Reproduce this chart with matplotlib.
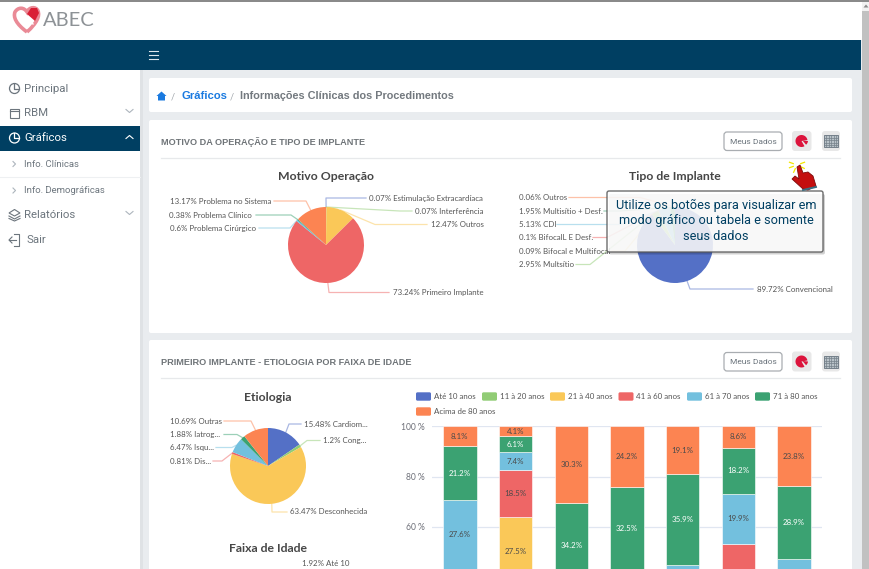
import matplotlib
matplotlib.use("Agg")
import numpy as np
import matplotlib.pyplot as plt
from matplotlib.patches import FancyBboxPatch, Rectangle, Circle, Polygon, PathPatch, Wedge
from matplotlib.path import Path

W, H = 870, 569
plt.rcParams["font.family"] = ["Lato", "DejaVu Sans"]

# ── DATA ──────────────────────────────────────────────────────────────────────
C_BLUE, C_GREEN, C_YELLOW, C_RED = "#5470c6", "#91cc75", "#fac858", "#ee6666"
C_LBLUE, C_DGREEN, C_ORANGE = "#73c0de", "#3ba272", "#fc8452"
PIE_COLORS = [C_BLUE, C_GREEN, C_YELLOW, C_RED, C_LBLUE, C_DGREEN, C_ORANGE]

motivo_values = [0.07, 0.07, 12.47, 73.24, 0.6, 0.38, 13.17]
motivo_names = ["Estimulação Extracardíaca", "Interferência", "Outros", "Primeiro Implante",
                "Problema Cirúrgico", "Problema Clínico", "Problema no Sistema"]

tipo_values = [89.72, 2.95, 0.09, 0.1, 5.13, 1.95, 0.06]
tipo_names = ["Convencional", "Multsítio", "Bifocal e Multifocal", "BifocalL E Desf.",
              "CDI", "Multisítio + Desf.", "Outros"]

etio_values = [15.48, 1.2, 63.47, 0.81, 6.47, 1.88, 10.69]
etio_names = ["Cardiom...", "Cong...", "Desconhecida", "Dis...", "Isqu...", "Iatrog...", "Outras"]

age_groups = ["Até 10 anos", "11 à 20 anos", "21 à 40 anos", "41 à 60 anos",
              "61 à 70 anos", "71 à 80 anos", "Acima de 80 anos"]
# one list per age group, seven bars; the part below the crop is estimated
age_00_10 = [0, 18.9, 0, 0, 0, 0, 0]
age_11_20 = [0, 17.5, 0, 0, 0, 0, 0]
age_21_40 = [15.1, 27.5, 0, 4.8, 3.1, 19.4, 5.2]
age_41_60 = [28.0, 18.5, 12.9, 21.1, 16.8, 33.9, 20.1]
age_61_70 = [27.6, 7.4, 22.6, 17.4, 25.1, 19.9, 22.0]
age_71_80 = [21.2, 6.1, 34.2, 32.5, 35.9, 18.2, 28.9]
age_80_up = [8.1, 4.1, 30.3, 24.2, 19.1, 8.6, 23.8]
age_series = [age_00_10, age_11_20, age_21_40, age_41_60, age_61_70, age_71_80, age_80_up]
y_ticks = [60, 80, 100]

NAVY = "#003f62"
GRAY_TXT = "#6c757d"
PAGE_BG = "#e9ecef"
LABEL_C = "#555555"
LABEL_FS = 5.65
TITLE_FS = 8.8

# ── BASE LAYER (pixel coordinates) ────────────────────────────────────────────
fig = plt.figure(figsize=(W / 100, H / 100), dpi=100, facecolor=PAGE_BG)


def pixel_axes(z):
    a = fig.add_axes([0, 0, 1, 1], zorder=z)
    a.set_xlim(0, W)
    a.set_ylim(H, 0)
    a.axis("off")
    a.patch.set_alpha(0)
    return a


base = pixel_axes(0)
top = pixel_axes(10)


def rect(ax, x0, y0, x1, y1, fc, ec="none", lw=0, z=1):
    ax.add_patch(Rectangle((x0, y0), x1 - x0, y1 - y0, fc=fc, ec=ec, lw=lw, zorder=z))


def rrect(ax, x0, y0, x1, y1, fc, ec="none", lw=0, pad=2, z=1, alpha=None):
    ax.add_patch(FancyBboxPatch((x0 + pad, y0 + pad), x1 - x0 - 2 * pad, y1 - y0 - 2 * pad,
                                boxstyle=f"round,pad={pad}", fc=fc, ec=ec, lw=lw, zorder=z, alpha=alpha))


# chrome
rect(base, 0, 0, W, 1.5, "#8a8a8a")
rect(base, 0, 1.5, 862, 40, "white")
rect(base, 0, 40, 861, 70, NAVY)
rect(base, 0, 70, 140, H, "white")
rect(base, 140, 70, 143, H, "#dfe2e5")
rect(base, 862, 1.5, W, H, "#c1c1c1")
rect(base, 862, 1.5, W, 11, "#f1f1f1")
base.add_patch(Polygon([[863.5, 7.5], [866, 4.5], [868.5, 7.5]], fc="#8a8a8a", zorder=2))
for y in [51, 55, 59]:
    base.plot([149, 158], [y, y], color="#dfe8ee", lw=0.8, zorder=2)

# logo
heart = Path([(27, 32), (16, 24), (13, 17), (15, 12), (18, 7), (24, 7), (27, 12),
              (29, 7), (36, 6), (38, 11), (40, 16), (37, 23), (27, 32)],
             [Path.MOVETO] + [Path.CURVE4] * 12)
base.add_patch(PathPatch(heart, fc="none", ec="#ea8a96", lw=2.6, zorder=2))
base.add_patch(Polygon([[27, 14], [31, 8], [37, 8], [39, 13], [35, 21]], fc="#d91f35", zorder=3))
base.plot([24, 33], [13, 24], color="white", lw=1.0, zorder=4)
base.text(43, 20.5, "ABEC", fontsize=14.5, color="#8d9296", va="center", family="Lato", zorder=3)

# sidebar
rect(base, 0, 126, 140, 151, NAVY, z=2)
base.plot([0, 140], [177, 177], color="#eef0f2", lw=0.8, zorder=2)
side_items = [("Principal", 88.5), ("RBM", 113), ("Gráficos", 138), ("Relatórios", 215), ("Sair", 240)]
for name, y in side_items:
    c = "white" if name == "Gráficos" else GRAY_TXT
    x = 27 if name == "Sair" else 24
    base.text(x, y, name, fontsize=8.2, color=c, va="center", family="Roboto", zorder=3)
    if name == "RBM":
        rect(base, 10, y - 4.5, 19, y + 4.5, "none", ec=c, lw=0.8, z=3)
        base.plot([10, 19], [y - 2, y - 2], color=c, lw=0.8, zorder=3)
    elif name == "Relatórios":
        base.add_patch(Polygon([[9, y - 2], [14.5, y - 5.5], [20, y - 2], [14.5, y + 1]], fc="none", ec=c, lw=0.8, zorder=3))
        base.plot([9, 14.5, 20], [y + 1, y + 4, y + 1], color=c, lw=0.8, zorder=3)
        base.plot([9, 14.5, 20], [y + 3.5, y + 6, y + 3.5], color=c, lw=0.8, zorder=3)
    elif name == "Sair":
        base.plot([14, 19, 19, 14], [y - 6, y - 6, y + 6, y + 6], color=c, lw=0.8, zorder=3)
        base.plot([9, 16], [y, y], color=c, lw=0.8, zorder=3)
        base.plot([12, 9, 12], [y - 3, y, y + 3], color=c, lw=0.8, zorder=3)
    else:
        base.add_patch(Circle((14.5, y), 5, fc="none", ec=c, lw=0.9, zorder=3))
        base.plot([14.5, 14.5, 19.5], [y - 5, y, y], color=c, lw=0.9, zorder=3)
for y, up, c in [(111, False, "#adb5bd"), (137, True, "white"), (213, False, "#adb5bd")]:
    d = -1.5 if up else 1.5
    base.plot([126, 129.5, 133], [y - d, y + d, y - d], color=c, lw=0.8, zorder=3)
for name, y in [("Info. Clínicas", 164), ("Info. Demográficas", 190.5)]:
    base.plot([13, 15.5, 13], [y - 2.5, y, y + 2.5], color="#adb5bd", lw=0.8, zorder=3)
    base.text(24, y, name, fontsize=6.8, color=GRAY_TXT, va="center", family="Roboto", zorder=3)

# cards
rrect(base, 149, 78, 852, 112, "white")
rrect(base, 149, 120, 852, 333, "white")
rrect(base, 149, 340, 852, H + 10, "white")

# breadcrumb
base.add_patch(Polygon([[156.5, 96], [161.5, 91.5], [166.5, 96], [165, 96], [165, 100.5], [158, 100.5], [158, 96]],
                       fc="#1a7ae0", zorder=3))
base.text(171, 96.5, "/", fontsize=6.5, color="#9aa0a6", va="center", zorder=3)
base.text(181.5, 96, "Gráficos", fontsize=8.1, color="#1a7ae0", weight="bold", va="center", family="Liberation Sans", zorder=3)
base.text(230, 96.5, "/", fontsize=6.5, color="#9aa0a6", va="center", zorder=3)
base.text(240, 96, "Informações Clínicas dos Procedimentos", fontsize=7.85, color="#73797f", weight="bold",
          va="center", family="Liberation Sans", zorder=3)


def card_header(title, y):
    base.text(161, y, title, fontsize=6.6, color="#6f7478", weight="bold", va="center",
              family="Liberation Sans", zorder=3)
    base.plot([161, 840], [y + 15.5, y + 15.5], color="#e7e9eb", lw=0.9, zorder=3)
    rrect(base, 724, y - 10, 782, y + 8.5, "white", ec="#a9adb1", lw=0.9, pad=3, z=3)
    base.text(753, y - 0.5, "Meus Dados", fontsize=6.0, color=GRAY_TXT, ha="center", va="center", family="Roboto", zorder=4)
    # pie button
    rrect(base, 792, y - 11, 811.5, y + 9, "#e8e8e8", pad=3, z=3)
    cy = y - 1
    base.add_patch(Wedge((801.5, cy), 6, 60, 350, fc="#dc143c", zorder=4))
    base.add_patch(Wedge((802.5, cy - 0.5), 5.5, 5, 50, fc="#dc143c", zorder=4))
    # table button
    rrect(base, 822, y - 11, 840, y + 9, "#e8e8e8", pad=3, z=3)
    rect(base, 824, y - 7, 838, y + 5, "#b9c2c8", ec="#75808a", lw=0.7, z=4)
    for gx in np.arange(826.5, 838, 2.5):
        base.plot([gx, gx], [y - 7, y + 5], color="#75808a", lw=0.5, zorder=5)
    for gy in np.arange(y - 4.5, y + 5, 2.5):
        base.plot([824, 838], [gy, gy], color="#75808a", lw=0.5, zorder=5)


card_header("MOTIVO DA OPERAÇÃO E TIPO DE IMPLANTE", 142)
card_header("PRIMEIRO IMPLANTE - ETIOLOGIA POR FAIXA DE IDADE", 362.5)


# ── PIES ──────────────────────────────────────────────────────────────────────
def draw_pie(cx, cy, r, values, title, title_y):
    ax = fig.add_axes([(cx - r) / W, 1 - (cy + r) / H, 2 * r / W, 2 * r / H], zorder=2)
    ax.pie(values, colors=PIE_COLORS, startangle=90, counterclock=False, radius=1,
           wedgeprops={"linewidth": 0})
    ax.set_xlim(-1, 1)
    ax.set_ylim(-1, 1)
    base.text(cx, title_y, title, fontsize=TITLE_FS, color="#464646", weight="bold", ha="center", va="center", zorder=3)


def edge_point(values, i, cx, cy, r):
    a = 2 * np.pi * (sum(values[:i]) + values[i] / 2) / sum(values)
    return cx + r * np.sin(a), cy - r * np.cos(a)


def pie_label(values, names, i, cx, cy, r, elbow_x, line_end_x, y, text_x, ha):
    sx, sy = edge_point(values, i, cx, cy, r)
    base.plot([sx, elbow_x, line_end_x], [sy, y, y], color=PIE_COLORS[i], alpha=0.5, lw=0.9, zorder=3)
    base.text(text_x, y, f"{values[i]}% {names[i]}", fontsize=LABEL_FS, color=LABEL_C, ha=ha, va="center", zorder=3)


draw_pie(326, 245, 38, motivo_values, "Motivo Operação", 176.5)
draw_pie(675, 245, 38, tipo_values, "Tipo de Implante", 176.5)
draw_pie(268, 466, 38, etio_values, "Etiologia", 397.5)
base.text(268, 549, "Faixa de Idade", fontsize=TITLE_FS, color="#464646", weight="bold", ha="center", va="center", zorder=3)

motivo_layout = [(0, 326, 366, 198, 369.5, "left"), (1, 400, 412, 211, 415, "left"),
                 (2, 375, 427, 224.5, 431, "left"), (3, 329, 389, 292.5, 393, "left"),
                 (4, 290, 259, 228, 256, "right"), (5, 291, 256, 215, 252, "right"),
                 (6, 306, 274, 201, 271, "right")]
for row in motivo_layout:
    i, ex, lx, y, tx, ha = row
    pie_label(motivo_values, motivo_names, i, 326, 245, 38, ex, lx, y, tx, ha)

tipo_layout = [(0, 690, 753, 289, 757, "left"), (1, 590, 576, 264.5, 519, "left"),
               (2, 625, 612, 251, 519, "left"), (3, 607, 593, 237.5, 519, "left"),
               (4, 620, 557, 224.5, 519, "left"), (5, 620, 604, 211, 519, "left"),
               (6, 640, 569, 197.5, 519, "left")]
for row in tipo_layout:
    i, ex, lx, y, tx, ha = row
    pie_label(tipo_values, tipo_names, i, 675, 245, 38, ex, lx, y, tx, ha)

etio_layout = [(0, 289, 301, 424, 304, "left"), (1, 307, 320, 440.5, 323, "left"),
               (2, 272, 287, 512, 290, "left"), (3, 222, 213, 461, 170, "left"),
               (4, 232, 216, 447.5, 170, "left"), (5, 237, 224, 434.5, 170, "left"),
               (6, 251, 224, 421, 170, "left")]
for row in etio_layout:
    i, ex, lx, y, tx, ha = row
    pie_label(etio_values, etio_names, i, 268, 466, 38, ex, lx, y, tx, ha)

# in the reference this label is cut by the page edge, here it stays just inside
base.text(302, 563.5, "1.92% Até 10", fontsize=LABEL_FS, color=LABEL_C, va="center", zorder=3)

# ── STACKED BARS ──────────────────────────────────────────────────────────────
bar_top, bar_zero = 426.0, 678.5
ax = fig.add_axes([432 / W, (H - bar_zero) / H, 390 / W, (bar_zero - bar_top) / H], zorder=2)
ax.patch.set_alpha(0)
x = np.arange(7)
bottom = np.zeros(7)
for vals, color in zip(age_series, PIE_COLORS):
    vals = np.array(vals)
    ax.bar(x, vals, 0.6, bottom=bottom, color=color, edgecolor="white", linewidth=0.4, zorder=3)
    for xi, v, b in zip(x, vals, bottom):
        # segments centred under the crop line have no visible label
        if v > 0 and b + v / 2 > 44:
            tc = "white" if color == C_DGREEN else "#4a4a4a"
            ax.text(xi, b + v / 2, f"{v}%", color=tc, fontsize=LABEL_FS, ha="center", va="center", zorder=4)
    bottom = bottom + vals
ax.set_xlim(-0.5, 6.5)
ax.set_ylim(0, 100)
ax.set_yticks(y_ticks)
ax.set_yticklabels([f"{t} %" for t in y_ticks], fontsize=LABEL_FS + 0.5, color="#6e7079")
ax.tick_params(axis="y", length=0, pad=5)
ax.set_xticks([])
ax.grid(axis="y", color="#e0e6f1", lw=0.9, zorder=0)
ax.set_axisbelow(True)
for s in ax.spines.values():
    s.set_visible(False)

# legend
legend_x = [416, 482, 550, 618.5, 687, 755, 416]
legend_y = [396.5] * 6 + [411.5]
for name, color, lx, ly in zip(age_groups, PIE_COLORS, legend_x, legend_y):
    rrect(base, lx, ly - 4.2, lx + 15, ly + 4.2, color, pad=1.5, z=3)
    base.text(lx + 18, ly, name, fontsize=LABEL_FS, color=LABEL_C, va="center", zorder=3)

# ── TOOLTIP AND HAND ──────────────────────────────────────────────────────────
rrect(top, 609, 194, 825, 254.5, "#000000", pad=2, z=1, alpha=0.18)
rrect(top, 607, 191, 823, 252, "white", ec="#555555", lw=1.0, pad=2, z=2, alpha=0.86)
tip_lines = [("Utilize os botões para visualizar em", 205), ("modo gráfico ou tabela e somente", 220.5), ("seus dados", 236)]
for line, y in tip_lines:
    top.text(716, y, line, fontsize=9.15, color=NAVY, ha="center", va="center", family="Roboto", zorder=3)

hand = [[797, 167], [800, 165], [803, 173], [808, 172], [813, 176], [816, 186], [808, 190], [803, 189],
        [792, 179], [795, 176], [799, 179]]
top.add_patch(Polygon(hand, fc="#c40f0f", ec="#7d0a0a", lw=0.6, zorder=4))
top.plot([803, 816], [190, 187], color="#3d6d80", lw=1.4, zorder=4)
for a in np.radians([160, 200, 245, 290, 335, 20]):
    top.plot([797 + 4 * np.cos(a), 797 + 8 * np.cos(a)], [165 - 4 * np.sin(a), 165 - 8 * np.sin(a)],
             color="#f2e600", lw=0.9, zorder=3)

plt.savefig("out.png", dpi=100, facecolor=fig.get_facecolor())
